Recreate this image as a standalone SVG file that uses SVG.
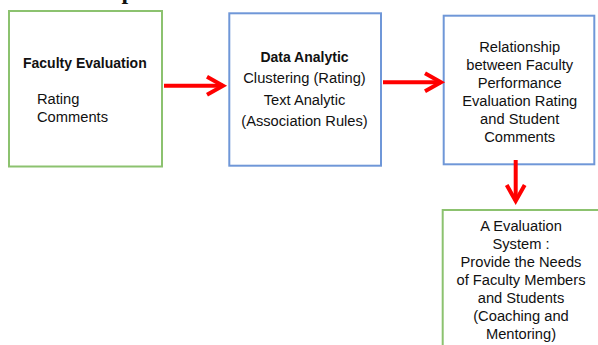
<svg xmlns="http://www.w3.org/2000/svg" width="598" height="345" viewBox="0 0 598 345">
  <style>
    .box { fill: #ffffff; stroke-width: 2; }
    .green { stroke: #8cc26f; }
    .blue { stroke: #6f97d8; }
    .t { font-family: "Liberation Sans", Arial, sans-serif; font-size: 14.7px; fill: #111111; }
    .b { font-weight: bold; font-size: 14px; }
    .c { text-anchor: middle; }
    .link { fill: none; stroke: #ff0000; stroke-width: 4; }
    .head { font-family: "Liberation Serif", "Times New Roman", serif; font-weight: bold; font-size: 24px; fill: #111111; }
  </style>
  <defs>
    <marker id="chevron" markerUnits="userSpaceOnUse" markerWidth="24" markerHeight="24" viewBox="0 0 24 24" refX="20" refY="12" orient="auto" overflow="visible">
      <path d="M4,3 L20,12 L4,21" fill="none" stroke="#ff0000" stroke-width="4" stroke-linejoin="miter"/>
    </marker>
  </defs>
  <rect width="598" height="345" fill="#ffffff"/>

  <!-- heading glyph clipped by the top edge -->
  <text class="head" x="121.5" y="-1">p</text>

  <g id="faculty-evaluation">
    <rect class="box green" x="9" y="11" width="153" height="155.5"/>
    <text class="t b" x="23" y="67.7">Faculty Evaluation</text>
    <text class="t" x="37" y="104">Rating</text>
    <text class="t" x="37" y="121.7">Comments</text>
  </g>

  <g id="data-analytic">
    <rect class="box blue" x="229.3" y="13.3" width="151.7" height="152.4"/>
    <text class="t b c" x="304.5" y="61.7">Data Analytic</text>
    <text class="t c" x="304.5" y="83.3">Clustering (Rating)</text>
    <text class="t c" x="304.5" y="104.8">Text Analytic</text>
    <text class="t c" x="304.5" y="126">(Association Rules)</text>
  </g>

  <g id="relationship">
    <rect class="box blue" x="443.7" y="15.7" width="150.6" height="148.6"/>
    <text class="t c" x="519.7" y="51.7">Relationship</text>
    <text class="t c" x="519.7" y="69.7">between Faculty</text>
    <text class="t c" x="519.7" y="87.7">Performance</text>
    <text class="t c" x="519.7" y="105.7">Evaluation Rating</text>
    <text class="t c" x="519.7" y="123.7">and Student</text>
    <text class="t c" x="519.7" y="141.5">Comments</text>
  </g>

  <g id="evaluation-system">
    <rect class="box green" x="442.7" y="210" width="165" height="150"/>
    <text class="t c" x="521" y="230.7">A Evaluation</text>
    <text class="t c" x="521" y="248.7">System :</text>
    <text class="t c" x="521" y="266.7">Provide the Needs</text>
    <text class="t c" x="521" y="284.7">of Faculty Members</text>
    <text class="t c" x="521" y="302.7">and Students</text>
    <text class="t c" x="521" y="320.7">(Coaching and</text>
    <text class="t c" x="521" y="338.7">Mentoring)</text>
  </g>

  <g id="connectors">
    <path class="link" d="M164,85.7 L223,85.7" marker-end="url(#chevron)"/>
    <path class="link" d="M383,82.3 L441,82.3" marker-end="url(#chevron)"/>
    <path class="link" d="M515.7,160 L515.7,201" marker-end="url(#chevron)"/>
  </g>
</svg>
